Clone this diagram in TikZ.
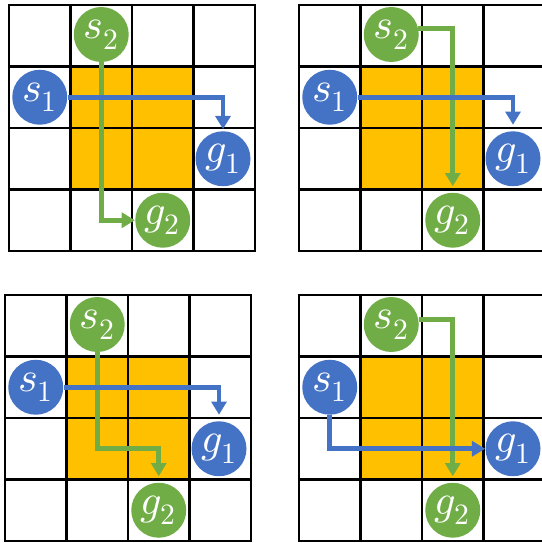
\documentclass[tikz,border=0pt]{standalone}
\usepackage{unicode-math}
\usetikzlibrary{arrows.meta}
\definecolor{agentblue}{HTML}{4472C4}
\definecolor{agentgreen}{HTML}{70AD47}
\definecolor{blockfill}{HTML}{FFC000}

\begin{document}
\begin{tikzpicture}[
		x=0.02cm, y=-0.02cm,
		% Grid styles
		gridline/.style={draw=black, line width=1.3pt, line cap=rect},
		blocked/.style={fill=blockfill},
		% Agent styles
		agent/.style={circle, minimum size=1.1cm, inner sep=0pt, text=white, font=\fontsize{24}{28}\selectfont},
		agent1/.style={agent, fill=agentblue},
		agent2/.style={agent, fill=agentgreen},
		% Route styles
		route1/.style={draw=agentblue, line width=2.7pt, -{Triangle[width=8.5pt,length=7.5pt]}},
		route2/.style={draw=agentgreen, line width=2.7pt, -{Triangle[width=8.5pt,length=7.5pt]}}
		]
		\useasboundingbox (0,0) rectangle (541,543);
		
		% --- FOUR GRIDS WITH AGENTS ---
		\foreach \n/\ox/\oy in {a/9/5, b/299/5, c/5/295, d/299/295} {
			\fill[blocked] (\ox+61.5,\oy+61.5) rectangle ++(123,123);
			\foreach \i in {0,...,4} {
				\draw[gridline] (\ox+\i*61.5,\oy) -- ++(0,246);
				\draw[gridline] (\ox,\oy+\i*61.5) -- ++(246,0);
			}
			\node[agent1] (s1\n) at (\ox+30.75,\oy+92.25) {$s_1$};
			\node[agent2] (s2\n) at (\ox+92.25,\oy+29.5) {$s_2$};
			\node[agent1] (g1\n) at (\ox+214,\oy+153.75) {$g_1$};
			\node[agent2] (g2\n) at (\ox+153.75,\oy+215.25) {$g_2$};
		}
		
		% --- ROUTES (green below blue) ---
		% A. top left
		\draw[route2] (s2a) |- (g2a);
		\draw[route1, shorten >=1pt] (s1a) -| (g1a);
		
		% B. top right
		\draw[route2, shorten >=3.5pt] (s2b.12) -| (g2b);
		\draw[route1, shorten >=3.5pt] (s1b) -| (g1b);
		
		% C. bottom left
		\draw[route2, shorten >=3.5pt] (s2c) |- (g2c |- g1c) -- (g2c);
		\draw[route1, shorten >=3.5pt] (s1c) -| (g1c);
		
		% D. bottom right
		\draw[route2, shorten >=3.5pt] (s2d.10) -| (g2d);
		\draw[route1] (s1d) |- (g1d);
		
	\end{tikzpicture}
\end{document}
